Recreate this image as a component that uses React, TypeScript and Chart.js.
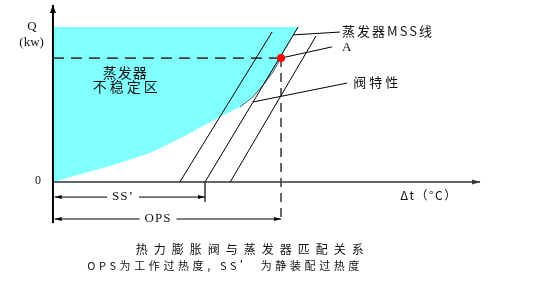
import React, { useEffect, useRef } from 'react';
import { Chart, registerables } from 'chart.js';

Chart.register(...registerables);

// ---- data (Δt in arbitrary units, Q in arbitrary units) ----
const curveDt = [0, 0.75, 1.57, 2.27, 3.04, 3.86, 4.38, 4.68, 4.96, 5.15, 5.34];
const curveQ = [0, 0.51, 1.07, 1.64, 2.54, 3.62, 4.24, 4.8, 5.59, 6.21, 7.0];

const valveDtAtZero = [2.97, 3.56, 4.15];
const valveDtAtTop = [5.13, 5.74, 6.16];
const valveQAtTop = [8.47, 8.76, 8.25];

const pointADt = 5.34;
const pointAQ = 7.0;
const unstableTopQ = 8.76;

const ssDt = 3.56;
const opsDt = 5.34;
const ssLevel = -0.85;
const opsLevel = -2.09;
const ssTickBottom = -1.13;

const axisDtMax = 10;
const axisQMax = 10;
const axisQMin = -2.32;

const leaderFromDt = [5.62, 5.34, 4.68];
const leaderFromQ = [8.31, 7.0, 4.52];
const leaderToDt = [6.72, 6.53, 6.89];
const leaderToQ = [8.47, 7.63, 5.59];

const viewDt = [-1.24, 11.38];
const viewQ = [-5.59, 10.28];

const CJK = '"Noto Sans CJK SC", "Noto Sans", sans-serif';
const SERIF = '"Liberation Serif", "DejaVu Serif", serif';

type Label = {
  text: string;
  dt: number;
  q: number;
  font: string;
  align: CanvasTextAlign;
  spacing?: number;
  bg?: boolean;
};

const labels: Label[] = [
  { text: 'Q', dt: -0.49, q: 8.76, font: `13px ${SERIF}`, align: 'center' },
  { text: '(kw)', dt: -0.5, q: 7.85, font: `13px ${SERIF}`, align: 'center' },
  { text: '0', dt: -0.35, q: 0.06, font: `12px ${SERIF}`, align: 'center' },
  { text: '蒸发器', dt: 1.69, q: 6.16, font: `14px ${CJK}`, align: 'center', spacing: 1 },
  { text: '不稳定区', dt: 1.73, q: 5.37, font: `14px ${CJK}`, align: 'center', spacing: 3 },
  { text: '蒸发器MSS线', dt: 6.77, q: 8.5, font: `13px ${CJK}`, align: 'left', spacing: 2 },
  { text: 'A', dt: 6.77, q: 7.6, font: `13px ${SERIF}`, align: 'left' },
  { text: '阀特性', dt: 7.03, q: 5.65, font: `13px ${CJK}`, align: 'left', spacing: 3 },
  { text: 'Δt（°C）', dt: 8.13, q: -0.73, font: `12px ${CJK}`, align: 'left', spacing: 1.5 },
  { text: 'SS\u2019', dt: 1.64, q: ssLevel, font: `13px ${SERIF}`, align: 'center', bg: true, spacing: 1 },
  { text: 'OPS', dt: 2.46, q: opsLevel, font: `13px ${SERIF}`, align: 'center', bg: true, spacing: 1 },
  { text: '热力膨胀阀与蒸发器匹配关系', dt: 4.68, q: -3.79, font: `12px ${CJK}`, align: 'center', spacing: 6 },
  { text: 'OPS为工作过热度, SS\u2019 为静装配过热度', dt: 4.03, q: -4.75, font: `11px ${CJK}`, align: 'center', spacing: 3.6 },
];

const pts = (xs: number[], ys: number[]) => xs.map((x, i) => ({ x, y: ys[i] }));

const arrowPlugin = {
  id: 'arrows',
  afterDatasetsDraw(chart: any) {
    const ctx = chart.ctx as CanvasRenderingContext2D;
    chart.data.datasets.forEach((ds: any, i: number) => {
      if (!ds.arrows) return;
      const meta = chart.getDatasetMeta(i);
      const d = meta.data;
      if (d.length < 2) return;
      const draw = (tip: any, from: any) => {
        const ang = Math.atan2(tip.y - from.y, tip.x - from.x);
        const L = ds.arrowLen || 8;
        const W = ds.arrowWidth || 3;
        ctx.save();
        ctx.translate(tip.x, tip.y);
        ctx.rotate(ang);
        ctx.beginPath();
        ctx.moveTo(0, 0);
        ctx.lineTo(-L, -W);
        ctx.lineTo(-L, W);
        ctx.closePath();
        ctx.fillStyle = ds.borderColor;
        ctx.fill();
        ctx.restore();
      };
      if (ds.arrows.end) draw(d[d.length - 1], d[d.length - 2]);
      if (ds.arrows.start) draw(d[0], d[1]);
    });
  },
};

const textPlugin = {
  id: 'texts',
  afterDraw(chart: any) {
    const ctx = chart.ctx as CanvasRenderingContext2D;
    const xs = chart.scales.x;
    const ys = chart.scales.y;
    labels.forEach((l) => {
      const px = xs.getPixelForValue(l.dt);
      const py = ys.getPixelForValue(l.q);
      ctx.save();
      ctx.font = l.font;
      (ctx as any).letterSpacing = `${l.spacing || 0}px`;
      ctx.textAlign = l.align;
      ctx.textBaseline = 'middle';
      if (l.bg) {
        const w = ctx.measureText(l.text).width;
        ctx.fillStyle = '#ffffff';
        ctx.fillRect(px - w / 2 - 5, py - 7, w + 10, 14);
      }
      ctx.fillStyle = '#111111';
      ctx.fillText(l.text, px, py);
      ctx.restore();
    });
    // point A drawn on top
    ctx.save();
    ctx.beginPath();
    ctx.arc(xs.getPixelForValue(pointADt), ys.getPixelForValue(pointAQ), 4, 0, Math.PI * 2);
    ctx.fillStyle = '#ff0000';
    ctx.fill();
    ctx.restore();
  },
};

export default function App() {
  const ref = useRef<HTMLCanvasElement | null>(null);

  useEffect(() => {
    document.body.style.margin = '0';
    const canvas = ref.current!;
    const line = (data: any[], extra: any = {}) => ({
      data,
      showLine: true,
      borderColor: '#000000',
      borderWidth: 1,
      pointRadius: 0,
      pointHoverRadius: 0,
      fill: false,
      tension: 0,
      order: 1,
      clip: false,
      ...extra,
    });

    const curvePts = pts(curveDt, curveQ);
    const regionPts = [
      { x: 0, y: unstableTopQ },
      { x: valveDtAtTop[1], y: unstableTopQ },
      ...curvePts.slice().reverse(),
    ];

    const datasets: any[] = [
      line(regionPts, {
        fill: 'shape',
        backgroundColor: '#80FFFF',
        borderWidth: 0,
        borderColor: 'rgba(0,0,0,0)',
        order: 10,
      }),
      line(curvePts.slice(6), { borderColor: '#333333', borderWidth: 0.8, order: 5 }),
      ...valveDtAtZero.map((d0, i) =>
        line([
          { x: d0, y: 0 },
          { x: valveDtAtTop[i], y: valveQAtTop[i] },
        ])
      ),
      line(
        [
          { x: 0, y: pointAQ },
          { x: pointADt, y: pointAQ },
        ],
        { borderColor: '#404040', borderWidth: 1.6, borderDash: [11, 7] }
      ),
      line(
        [
          { x: opsDt, y: pointAQ },
          { x: opsDt, y: axisQMin },
        ],
        { borderColor: '#404040', borderWidth: 1.6, borderDash: [9, 6] }
      ),
      // axes
      line(
        [
          { x: 0, y: 0 },
          { x: axisDtMax, y: 0 },
        ],
        { borderColor: '#333333', borderWidth: 1.5, arrows: { end: true }, arrowLen: 8, arrowWidth: 2.5 }
      ),
      line(
        [
          { x: 0, y: axisQMin },
          { x: 0, y: axisQMax },
        ],
        { borderColor: '#000000', borderWidth: 2, arrows: { end: true }, arrowLen: 8, arrowWidth: 3 }
      ),
      // SS' and OPS dimension lines
      line(
        [
          { x: 0.04, y: ssLevel },
          { x: ssDt, y: ssLevel },
        ],
        { borderColor: '#000000', borderWidth: 1, arrows: { start: true, end: true }, arrowLen: 7, arrowWidth: 2 }
      ),
      line(
        [
          { x: ssDt, y: 0 },
          { x: ssDt, y: ssTickBottom },
        ],
        { borderWidth: 1.2 }
      ),
      line(
        [
          { x: 0.04, y: opsLevel },
          { x: opsDt, y: opsLevel },
        ],
        { borderColor: '#000000', borderWidth: 1, arrows: { start: true, end: true }, arrowLen: 7, arrowWidth: 2 }
      ),
      // leader lines
      ...leaderFromDt.map((d, i) =>
        line([
          { x: d, y: leaderFromQ[i] },
          { x: leaderToDt[i], y: leaderToQ[i] },
        ])
      ),
    ];

    const chart = new Chart(canvas, {
      type: 'scatter',
      data: { datasets },
      options: {
        animation: false,
        responsive: false,
        devicePixelRatio: 1,
        layout: { padding: 0 },
        plugins: { legend: { display: false }, tooltip: { enabled: false } },
        events: [],
        scales: {
          x: { type: 'linear', min: viewDt[0], max: viewDt[1], display: false },
          y: { type: 'linear', min: viewQ[0], max: viewQ[1], display: false },
        },
      },
      plugins: [arrowPlugin, textPlugin],
    });
    return () => chart.destroy();
  }, []);

  return (
    <div style={{ position: 'fixed', left: 0, top: 0, width: 539, height: 281, background: '#ffffff' }}>
      <canvas ref={ref} width={539} height={281} style={{ display: 'block', width: 539, height: 281 }} />
    </div>
  );
}
